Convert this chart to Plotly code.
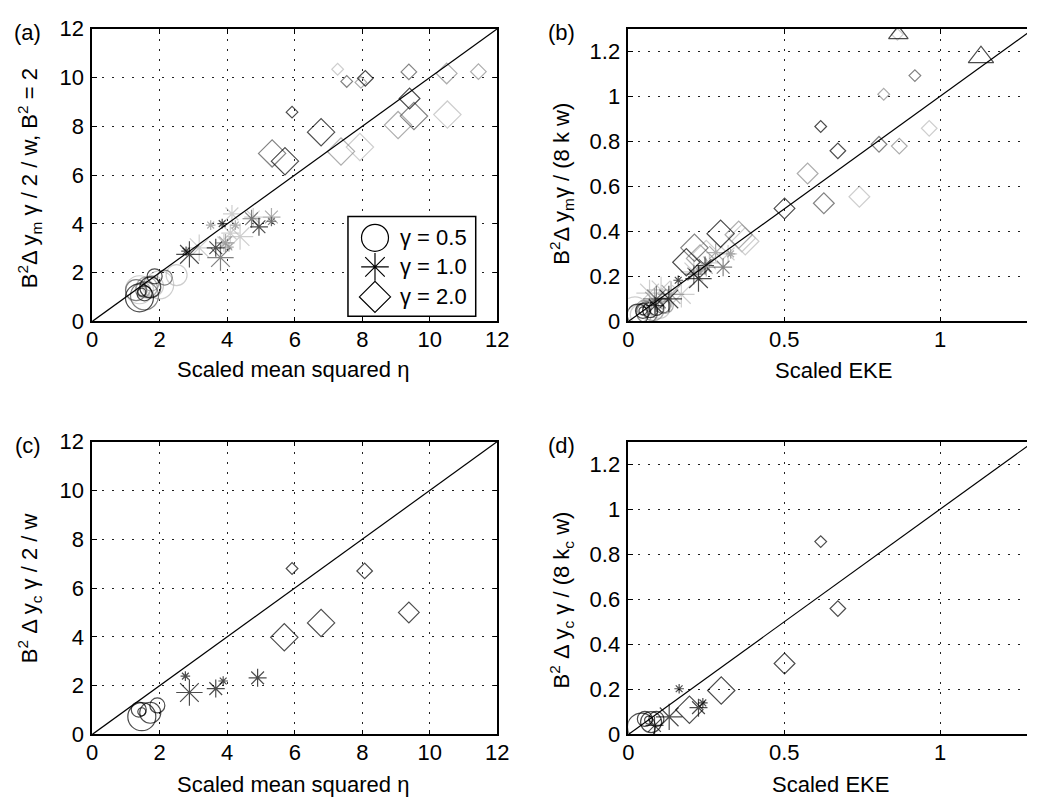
import plotly.graph_objects as go

W, H = 1039, 809

# ---------------- data ----------------
# shade: 0 = black, 1 = dark grey, 2 = mid grey, 3 = light grey
# size class: 1 = small ... 4 = extra large

# Panel (a): scaled mean squared eta vs B^2 dy_m gamma/2/w
A_CIRC_X = [1.40, 1.47, 1.55, 1.72, 1.85, 1.30, 1.55, 2.15, 1.62, 1.50, 1.75, 1.40, 2.50, 2.00, 1.80]
A_CIRC_Y = [0.97, 1.20, 1.15, 1.40, 1.85, 1.28, 1.05, 1.80, 1.40, 1.30, 1.55, 1.30, 1.90, 1.50, 1.45]
A_CIRC_SHADE = [0, 0, 0, 0, 0, 1, 1, 1, 2, 2, 2, 3, 3, 3, 3]
A_CIRC_SIZE = [4, 1, 2, 3, 2, 3, 4, 2, 3, 2, 2, 4, 3, 4, 3]

A_AST_X = [2.78, 2.88, 3.66, 3.85, 4.94, 3.80, 4.72, 5.31, 3.51, 4.24, 3.95, 5.31, 4.05,
           3.17, 4.14, 4.77, 4.38, 3.90, 4.09]
A_AST_Y = [2.88, 2.75, 3.02, 4.01, 3.88, 2.62, 4.21, 4.10, 3.95, 3.95, 3.22, 4.28, 3.05,
           3.02, 4.41, 4.28, 3.48, 3.22, 3.62]
A_AST_SHADE = [0, 0, 0, 0, 0, 1, 1, 1, 2, 2, 2, 2, 2, 3, 3, 3, 3, 3, 3]
A_AST_SIZE = [1, 3, 2, 1, 2, 3, 2, 1, 1, 1, 2, 2, 1, 3, 2, 2, 3, 2, 2]

A_DIA_X = [5.92, 8.09, 9.40, 6.78, 5.71, 7.54, 9.38, 9.53, 5.33, 7.96, 11.44, 10.50, 9.06, 7.37,
           7.27, 10.52, 7.93]
A_DIA_Y = [8.58, 9.97, 9.14, 7.76, 6.57, 9.84, 10.23, 8.42, 6.89, 9.80, 10.24, 10.17, 8.05, 6.97,
           10.34, 8.48, 7.15]
A_DIA_SHADE = [0, 0, 0, 0, 0, 1, 1, 1, 1, 2, 2, 2, 2, 2, 3, 3, 3]
A_DIA_SIZE = [1, 2, 3, 4, 4, 1, 2, 4, 4, 1, 2, 3, 4, 4, 1, 4, 4]

# Panel (b): scaled EKE vs B^2 dy_m gamma/(8 k w)
B_CIRC_X = [0.047, 0.047, 0.070, 0.030, 0.090, 0.060, 0.110, 0.080, 0.120, 0.050, 0.021, 0.100, 0.040]
B_CIRC_Y = [0.047, 0.047, 0.050, 0.030, 0.060, 0.040, 0.070, 0.050, 0.070, 0.060, 0.047, 0.060, 0.030]
B_CIRC_SHADE = [0, 0, 0, 0, 0, 1, 1, 2, 2, 2, 3, 3, 3]
B_CIRC_SIZE = [2, 1, 2, 3, 2, 3, 2, 3, 2, 2, 4, 3, 3]

B_AST_X = [0.160, 0.225, 0.246, 0.130, 0.086, 0.304, 0.090, 0.210, 0.280, 0.328, 0.084, 0.137,
           0.250, 0.068, 0.105, 0.170, 0.260, 0.320, 0.210]
B_AST_Y = [0.183, 0.190, 0.248, 0.100, 0.070, 0.241, 0.100, 0.210, 0.306, 0.300, 0.090, 0.120,
           0.240, 0.126, 0.140, 0.120, 0.260, 0.300, 0.220]
B_AST_SHADE = [0, 0, 0, 0, 0, 1, 1, 1, 2, 2, 2, 2, 2, 3, 3, 3, 3, 3, 3]
B_AST_SIZE = [1, 3, 2, 3, 2, 2, 3, 2, 2, 1, 3, 3, 2, 3, 3, 3, 2, 2, 3]

B_DIA_X = [0.617, 0.672, 0.501, 0.296, 0.186, 0.919, 0.804, 0.627, 0.212, 0.819, 0.869, 0.575,
           0.230, 0.354, 0.863, 0.965, 0.741, 0.364, 0.250, 0.375]
B_DIA_Y = [0.866, 0.758, 0.502, 0.390, 0.263, 1.092, 0.787, 0.525, 0.327, 1.009, 0.779, 0.657,
           0.280, 0.385, 1.275, 0.858, 0.554, 0.370, 0.300, 0.356]
B_DIA_SHADE = [0, 0, 0, 0, 0, 1, 1, 1, 1, 2, 2, 2, 2, 2, 3, 3, 3, 3, 3, 3]
B_DIA_SIZE = [1, 2, 3, 4, 4, 1, 2, 3, 4, 1, 2, 3, 4, 4, 1, 2, 3, 4, 4, 4]

B_TRI_X = [0.866, 1.131]
B_TRI_Y = [1.275, 1.174]
B_TRI_SHADE = [0, 0]
B_TRI_SIZE = [3, 4]

# Panel (c): scaled mean squared eta vs B^2 dy_c gamma/2/w
C_CIRC_X = [1.47, 1.38, 1.47, 1.72, 1.93]
C_CIRC_Y = [0.73, 1.02, 0.93, 0.89, 1.19]
C_CIRC_SIZE = [4, 2, 1, 3, 2]

C_AST_X = [2.76, 2.88, 3.66, 3.88, 4.90]
C_AST_Y = [2.39, 1.72, 1.88, 2.19, 2.32]
C_AST_SIZE = [1, 3, 2, 1, 2]

C_DIA_X = [5.92, 8.07, 9.38, 6.78, 5.69]
C_DIA_Y = [6.80, 6.70, 5.00, 4.57, 3.98]
C_DIA_SIZE = [1, 2, 3, 4, 4]

# Panel (d): scaled EKE vs B^2 dy_c gamma/(8 k_c w)
D_CIRC_X = [0.042, 0.053, 0.065, 0.073, 0.090]
D_CIRC_Y = [0.033, 0.069, 0.064, 0.055, 0.069]
D_CIRC_SIZE = [4, 2, 1, 3, 2]

D_AST_X = [0.163, 0.131, 0.084, 0.239, 0.225]
D_AST_Y = [0.203, 0.078, 0.040, 0.140, 0.119]
D_AST_SIZE = [1, 3, 2, 1, 2]

D_DIA_X = [0.617, 0.672, 0.501, 0.298, 0.196]
D_DIA_Y = [0.856, 0.559, 0.315, 0.195, 0.110]
D_DIA_SIZE = [1, 2, 3, 4, 4]

LEGEND_LABELS = ["γ = 0.5", "γ = 1.0", "γ = 2.0"]

ETA_TICKS = [0, 2, 4, 6, 8, 10, 12]
EKE_XTICKS = [0, 0.5, 1]
EKE_XLABELS = ["0", "0.5", "1"]
EKE_YTICKS = [0, 0.2, 0.4, 0.6, 0.8, 1.0, 1.2]
EKE_YLABELS = ["0", "0.2", "0.4", "0.6", "0.8", "1", "1.2"]

# ---------------- styles ----------------
SHADES = ["#000000", "#4e4e4e", "#8a8a8a", "#b9b9b9"]
PX = {
    "circle-open": {1: 8, 2: 15, 3: 21, 4: 28},
    "asterisk-open": {1: 8, 2: 15, 3: 22, 4: 24},
    "diamond-open": {1: 9, 2: 12, 3: 16, 4: 21},
    "triangle-up-open": {1: 10, 2: 14, 3: 17, 4: 22},
}
FONT = "Liberation Sans, Arial, Helvetica, sans-serif"
FS = 22


def fx(p):
    return p / W


def fy(p):
    return 1 - p / H


fig = go.Figure()


def add_points(xs, ys, shades, sizes, symbol, xa, ya):
    order = sorted(range(len(xs)), key=lambda i: -shades[i])
    fig.add_trace(go.Scatter(
        x=[xs[i] for i in order], y=[ys[i] for i in order], mode="markers",
        xaxis=xa, yaxis=ya, showlegend=False, hoverinfo="skip",
        marker=dict(symbol=symbol, color=[SHADES[shades[i]] for i in order],
                    size=[PX[symbol][sizes[i]] for i in order],
                    line=dict(width=1.2)),
    ))


def add_diag(lim, xa, ya):
    fig.add_trace(go.Scatter(x=[0, lim], y=[0, lim], mode="lines", xaxis=xa, yaxis=ya,
                             showlegend=False, hoverinfo="skip",
                             line=dict(color="black", width=1.2)))


# (a)
add_points(A_CIRC_X, A_CIRC_Y, A_CIRC_SHADE, A_CIRC_SIZE, "circle-open", "x", "y")
add_points(A_AST_X, A_AST_Y, A_AST_SHADE, A_AST_SIZE, "asterisk-open", "x", "y")
add_points(A_DIA_X, A_DIA_Y, A_DIA_SHADE, A_DIA_SIZE, "diamond-open", "x", "y")
add_diag(12, "x", "y")
# (b)
add_points(B_CIRC_X, B_CIRC_Y, B_CIRC_SHADE, B_CIRC_SIZE, "circle-open", "x2", "y2")
add_points(B_AST_X, B_AST_Y, B_AST_SHADE, B_AST_SIZE, "asterisk-open", "x2", "y2")
add_points(B_DIA_X, B_DIA_Y, B_DIA_SHADE, B_DIA_SIZE, "diamond-open", "x2", "y2")
add_points(B_TRI_X, B_TRI_Y, B_TRI_SHADE, B_TRI_SIZE, "triangle-up-open", "x2", "y2")
add_diag(1.3, "x2", "y2")
# (c)
add_points(C_CIRC_X, C_CIRC_Y, [0] * len(C_CIRC_X), C_CIRC_SIZE, "circle-open", "x3", "y3")
add_points(C_AST_X, C_AST_Y, [0] * len(C_AST_X), C_AST_SIZE, "asterisk-open", "x3", "y3")
add_points(C_DIA_X, C_DIA_Y, [0] * len(C_DIA_X), C_DIA_SIZE, "diamond-open", "x3", "y3")
add_diag(12, "x3", "y3")
# (d)
add_points(D_CIRC_X, D_CIRC_Y, [0] * len(D_CIRC_X), D_CIRC_SIZE, "circle-open", "x4", "y4")
add_points(D_AST_X, D_AST_Y, [0] * len(D_AST_X), D_AST_SIZE, "asterisk-open", "x4", "y4")
add_points(D_DIA_X, D_DIA_Y, [0] * len(D_DIA_X), D_DIA_SIZE, "diamond-open", "x4", "y4")
add_diag(1.3, "x4", "y4")

# legend (drawn in its own small axes)
LEG = dict(l=348, r=478, t=211, b=314)
leg_symbols = ["circle-open", "asterisk-open", "diamond-open"]
leg_sizes = [27, 23, 24]
leg_rows = [233, 263, 294]
leg_y = [(LEG["b"] - r) / (LEG["b"] - LEG["t"]) for r in leg_rows]
for sym, sz, yy in zip(leg_symbols, leg_sizes, leg_y):
    fig.add_trace(go.Scatter(x=[(375.5 - LEG["l"]) / (LEG["r"] - LEG["l"])], y=[yy], mode="markers",
                             xaxis="x5", yaxis="y5", showlegend=False, hoverinfo="skip",
                             marker=dict(symbol=sym, size=sz, color="black", line=dict(width=1.2))))

axis_common = dict(showgrid=True, gridcolor="#222222", griddash="2px,8px", gridwidth=1,
                   zeroline=False, showline=True, linecolor="black", linewidth=1.5,
                   ticks="inside", ticklen=5, tickcolor="black", tickwidth=1,
                   tickfont=dict(family=FONT, size=FS, color="black"))
xaxis_extra = dict(ticklabelstandoff=-3)
yaxis_extra = dict(ticklabelstandoff=2)

dom_left = [87.7 / W, 500 / W]
dom_right = [633.3 / W, 1.0]
dom_top = [fy(319.3), fy(17.3)]
dom_bot = [fy(745.5), fy(443.3)]
eke_xmax = (W - 633.3) / 317.3

layout = dict(
    width=W, height=H, margin=dict(l=0, r=0, t=0, b=0),
    paper_bgcolor="white", plot_bgcolor="white", showlegend=False,
    font=dict(family=FONT, size=FS, color="black"),
    xaxis=dict(domain=dom_left, anchor="y", range=[0, 12], tickvals=ETA_TICKS, mirror="ticks",
               **axis_common, **xaxis_extra),
    yaxis=dict(domain=dom_top, anchor="x", range=[0, 12], tickvals=ETA_TICKS, mirror="ticks",
               **axis_common, **yaxis_extra),
    xaxis2=dict(domain=dom_right, anchor="y2", range=[0, eke_xmax], tickvals=EKE_XTICKS,
                ticktext=EKE_XLABELS, mirror="ticks", **axis_common, **xaxis_extra),
    yaxis2=dict(domain=dom_top, anchor="x2", range=[0, 1.3], tickvals=EKE_YTICKS,
                ticktext=EKE_YLABELS, mirror=False, **axis_common, **yaxis_extra),
    xaxis3=dict(domain=dom_left, anchor="y3", range=[0, 12], tickvals=ETA_TICKS, mirror="ticks",
                **axis_common, **xaxis_extra),
    yaxis3=dict(domain=dom_bot, anchor="x3", range=[0, 12], tickvals=ETA_TICKS, mirror="ticks",
                **axis_common, **yaxis_extra),
    xaxis4=dict(domain=dom_right, anchor="y4", range=[0, eke_xmax], tickvals=EKE_XTICKS,
                ticktext=EKE_XLABELS, mirror="ticks", **axis_common, **xaxis_extra),
    yaxis4=dict(domain=dom_bot, anchor="x4", range=[0, 1.3], tickvals=EKE_YTICKS,
                ticktext=EKE_YLABELS, mirror=False, **axis_common, **yaxis_extra),
    xaxis5=dict(domain=[fx(LEG["l"]), fx(LEG["r"])], anchor="y5", range=[0, 1], visible=False),
    yaxis5=dict(domain=[fy(LEG["b"]), fy(LEG["t"])], anchor="x5", range=[0, 1], visible=False),
)
fig.update_layout(**layout)

# legend box: white fill under legend markers, border on top
fig.add_shape(type="rect", xref="x5", yref="y5", x0=-0.1, x1=1.1, y0=-0.1, y1=1.1,
              fillcolor="white", line=dict(width=0), layer="below")
fig.add_shape(type="rect", xref="paper", yref="paper", x0=fx(LEG["l"]), x1=fx(LEG["r"]),
              y0=fy(LEG["b"]), y1=fy(LEG["t"]), line=dict(color="black", width=1.5), layer="above")

annotations = []


def ann(text, x, y, angle=0, xanchor="center"):
    annotations.append(dict(text=text, x=fx(x), y=fy(y), xref="paper", yref="paper",
                            showarrow=False, textangle=angle, xanchor=xanchor, yanchor="middle",
                            font=dict(family=FONT, size=FS, color="black")))


for lab, row in zip(LEGEND_LABELS, leg_rows):
    ann(lab, 399, row, xanchor="left")

ann("(a)", 22, 21)
ann("(b)", 565, 21)
ann("(c)", 22, 447)
ann("(d)", 565, 447)

ann("B<sup>2</sup>Δ y<sub>m</sub> γ / 2 / w, B<sup>2</sup> = 2", 24, 172, angle=-90)
ann("B<sup>2</sup>Δ y<sub>m</sub>γ / (8 k w)", 565, 177, angle=-90)
ann("B<sup>2</sup> Δ y<sub>c</sub> γ / 2 / w", 24, 595, angle=-90)
ann("B<sup>2</sup> Δ y<sub>c</sub> γ / (8 k<sub>c</sub> w)", 565, 607, angle=-90)

ann("Scaled mean squared η", 292, 369)
ann("Scaled EKE", 842, 370)
ann("Scaled mean squared η", 292, 797)
ann("Scaled EKE", 839, 797)

fig.update_layout(annotations=annotations)

fig.write_html("out.html")
